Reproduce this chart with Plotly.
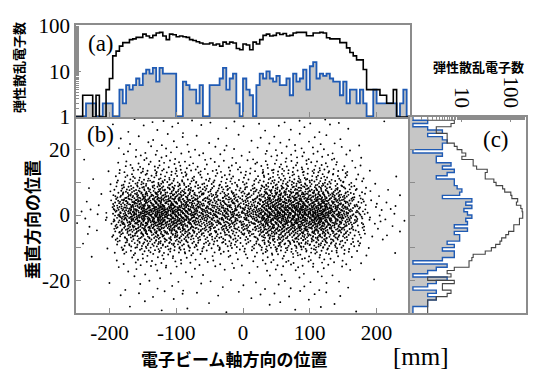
import numpy as np
import plotly.graph_objects as go

# ---------------- data ----------------
# top panel (a): 5 mm bins along the beam axis, left edges -250 ... 245
x_bin_left = list(range(-250, 250, 5))
top_total = [1, 1, 3, 3, 3, 1, 3, 1, 1, 4,
             7, 22, 28, 36, 43, 43, 50, 52, 56, 56,
             66, 60, 55, 62, 70, 72, 60, 50, 66, 64,
             58, 60, 58, 56, 50, 48, 45, 42, 40, 40,
             42, 38, 40, 36, 44, 40, 44, 42, 32, 30,
             40, 38, 30, 44, 40, 50, 62, 66, 60, 62,
             70, 65, 68, 60, 62, 70, 72, 72, 72, 61,
             61, 70, 70, 72, 70, 55, 52, 52, 52, 43,
             43, 33, 26, 22, 18, 18, 11, 4, 4, 4,
             4, 3, 3, 2, 2, 4, 1, 1, 1, 1]
top_elastic = [1, 1, 1, 2, 2, 2, 1, 1, 2, 2,
               2, 1, 1, 4, 2, 5, 4, 5, 7, 5,
               9, 11, 9, 12, 6, 12, 9, 9, 9, 9,
               1, 1, 6, 5, 4, 4, 2, 5, 1, 1,
               5, 5, 5, 7, 12, 4, 7, 9, 2, 1,
               7, 4, 3, 1, 5, 9, 7, 10, 7, 6,
               8, 5, 5, 7, 3, 9, 6, 7, 11, 4,
               13, 16, 7, 9, 8, 9, 7, 6, 6, 3,
               6, 2, 4, 4, 2, 4, 2, 1, 1, 4,
               2, 2, 2, 2, 2, 2, 1, 2, 4, 1]

# side panel (c): 1 mm bins in the vertical direction, lower edges -30 ... 29
y_bin_low = list(range(-30, 30))
side_total = [2, 2, 2, 2, 3, 5, 6, 4, 4, 7,
              2, 6, 5, 7, 14, 14, 16, 17, 30, 40,
              49, 60, 65, 79, 90, 115, 115, 150, 150, 175,
              175, 170, 160, 130, 138, 105, 100, 75, 68, 50,
              45, 30, 30, 33, 20, 17, 17, 10, 12, 10,
              8, 7, 5, 5, 5, 3, 3, 6, 7, 2]
side_elastic = [1, 1, 2, 2, 3, 2, 3, 1, 2, 3,
                5, 1, 2, 3, 5, 1, 4, 7, 7, 4,
                7, 5, 9, 9, 7, 13, 7, 13, 12, 16,
                13, 11, 16, 12, 16, 4, 9, 10, 8, 7,
                7, 3, 5, 7, 4, 6, 3, 3, 4, 1,
                4, 4, 5, 4, 2, 4, 2, 1, 2, 1]

x_ticks = [-200, -100, 0, 100, 200]
x_ticklabels = ["-200", "-100", "0", "100", "200"]
y_ticks = [-20, -10, 0, 10, 20]
y_ticklabels = ["-20", "", "0", "", "20"]

# ---------------- derived quantities ----------------
XW = 5
x_edges = x_bin_left + [x_bin_left[-1] + XW]
y_edges = y_bin_low + [y_bin_low[-1] + 1]
x_centers = [e + XW / 2 for e in x_bin_left]
y_centers = [e + 0.5 for e in y_bin_low]


def radical_inverse(i, base):
    f, r = 1.0, 0.0
    while i > 0:
        f /= base
        r += f * (i % base)
        i //= base
    return r


# scatter (b): each x bin holds top_total points; their vertical positions
# follow the measured vertical distribution (side_total) through its quantiles
# (Halton low-discrepancy placement, no random numbers).
cdf = np.concatenate([[0], np.cumsum(side_total)]) / np.sum(side_total)
px, py = [], []
k = 1
for left, n in zip(x_bin_left, top_total):
    for _ in range(n):
        u = radical_inverse(k, 3)
        v = radical_inverse(k * 7 + 3, 2)
        px.append(left + XW * u)
        py.append(float(np.interp(v, cdf, y_edges)))
        k += 1

BLUE = "#1f5bb5"
GRAY = "#c6c6c6"
FRAME = "#8c8c8c"
SERIF = "Liberation Serif"
CJK = "Noto Sans CJK JP"

fig = go.Figure()

# ---- (a) top histogram ----
fig.add_trace(go.Bar(x=x_centers, y=top_elastic, width=XW, marker=dict(color=GRAY, line=dict(width=0)),
                     xaxis="x2", yaxis="y2", showlegend=False))
fig.add_trace(go.Scatter(x=x_edges, y=top_elastic + [top_elastic[-1]], mode="lines",
                         line=dict(color=BLUE, width=1.8, shape="hv"),
                         xaxis="x2", yaxis="y2", showlegend=False))
fig.add_trace(go.Scatter(x=x_edges, y=top_total + [top_total[-1]], mode="lines",
                         line=dict(color="black", width=1.6, shape="hv"),
                         xaxis="x2", yaxis="y2", showlegend=False))

# ---- (b) scatter ----
fig.add_trace(go.Scatter(x=px, y=py, mode="markers",
                         marker=dict(color="black", size=1.9, line=dict(width=0)),
                         xaxis="x", yaxis="y", showlegend=False))

# ---- (c) side histogram ----
fig.add_trace(go.Bar(y=y_centers, x=side_elastic, width=1, orientation="h",
                     marker=dict(color=GRAY, line=dict(width=0)),
                     xaxis="x3", yaxis="y3", showlegend=False))
fig.add_trace(go.Scatter(x=side_elastic + [side_elastic[-1]], y=y_edges, mode="lines",
                         line=dict(color=BLUE, width=1.4, shape="vh"),
                         xaxis="x3", yaxis="y3", showlegend=False))
fig.add_trace(go.Scatter(x=side_total + [side_total[-1]], y=y_edges, mode="lines",
                         line=dict(color="#444444", width=1.1, shape="vh"),
                         xaxis="x3", yaxis="y3", showlegend=False))

XD = [76 / 550, 410 / 550]
XD3 = [410 / 550, 526 / 550]
YD = [(382 - 313) / 382, (382 - 117) / 382]
YD2 = [(382 - 117) / 382, (382 - 25) / 382]

tickfont = dict(family=SERIF, size=21, color="black")
common = dict(showline=True, linecolor=FRAME, linewidth=1.5, mirror=True, automargin=False,
              ticks="inside", tickcolor=FRAME, ticklen=5, showgrid=False, zeroline=False)

fig.update_layout(
    template="none",
    width=550, height=382, margin=dict(l=0, r=0, t=0, b=0, pad=0),
    paper_bgcolor="white", plot_bgcolor="white", bargap=0,
    xaxis=dict(domain=XD, range=[-250, 250], anchor="y", tickvals=x_ticks, ticktext=x_ticklabels,
               tickfont=tickfont, **common),
    yaxis=dict(domain=YD, range=[-30, 30], anchor="x", tickvals=y_ticks, ticktext=y_ticklabels,
               tickfont=tickfont, **common),
    xaxis2=dict(domain=XD, range=[-250, 250], anchor="y2", tickvals=x_ticks,
                showticklabels=False, **common),
    yaxis2=dict(domain=YD2, type="log", range=[0, 2.02], anchor="x2",
                tickvals=[1, 10, 100], ticktext=["1", "10", "100"], tickfont=tickfont,
                minor=dict(ticks="inside", ticklen=3, tickcolor=FRAME), **common),
    xaxis3=dict(domain=XD3, type="log", range=[-0.06, 2.31], anchor="y3", side="top",
                tickvals=[10, 100], ticktext=["10", "100"], tickangle=90, tickfont=tickfont,
                minor=dict(ticks="inside", ticklen=3, tickcolor=FRAME), **common),
    yaxis3=dict(domain=YD, range=[-30, 30], anchor="x3", tickvals=y_ticks,
                showticklabels=False, **common),
)


def ann(text, x, y, size, family, angle=0, bold=False):
    t = f"<b>{text}</b>" if bold else text
    fig.add_annotation(text=t, x=x / 550, y=1 - y / 382, xref="paper", yref="paper",
                       showarrow=False, textangle=angle, xanchor="center", yanchor="middle",
                       font=dict(family=family, size=size, color="black"))


ann("(a)", 101, 43, 23, SERIF)
ann("(b)", 100, 134, 23, SERIF)
ann("(c)", 496, 139, 23, SERIF)
ann("弾性散乱電子数", 19, 68, 13, CJK, angle=-90, bold=True)
ann("垂直方向の位置", 31, 220, 17, CJK, angle=-90, bold=True)
ann("電子ビーム軸方向の位置", 234, 358, 17, CJK, bold=True)
ann("[mm]", 421, 356, 25, SERIF)
ann("弾性散乱電子数", 478, 66, 13, CJK, bold=True)

fig.write_html("out.html", config={"displayModeBar": False},
               post_script="document.body.style.margin='0px';")
